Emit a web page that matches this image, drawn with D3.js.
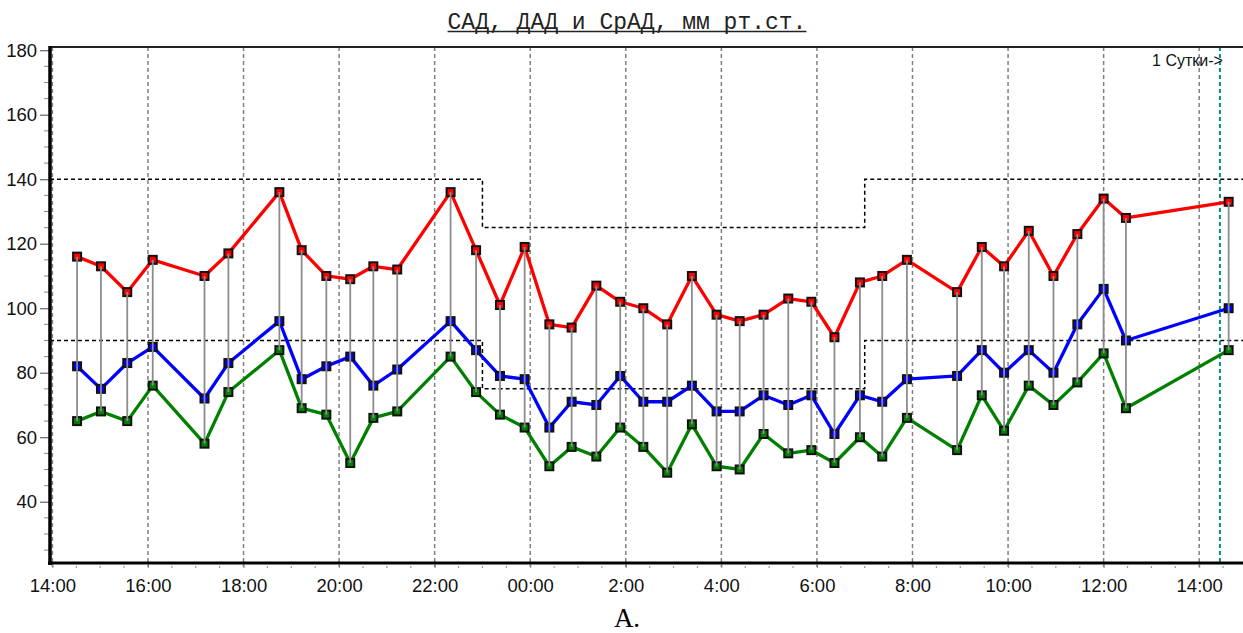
<!DOCTYPE html>
<html>
<head>
<meta charset="utf-8">
<script src="https://cdn.jsdelivr.net/npm/d3@7"></script>
<style>
  body { margin: 0; background: #fff; }
  svg { display: block; }
</style>
</head>
<body>
<div id="chart"></div>
<script>
// measurement times (day 1 from 14:00, continues into day 2)
const times = ["14:31", "15:01", "15:34", "16:06", "17:11", "17:41", "18:45", "19:13", "19:44", "20:14",
  "20:43", "21:13", "22:20", "22:52", "23:22", "23:53", "00:24", "00:52", "01:23", "01:53",
  "02:22", "02:52", "03:23", "03:54", "04:23", "04:53", "05:24", "05:53", "06:22", "06:54",
  "07:22", "07:53", "08:56", "09:27", "09:55", "10:26", "10:57", "11:27", "12:00", "12:28", "14:37"];
// САД
const sad = [116, 113, 105, 115, 110, 117, 136, 118, 110, 109,
  113, 112, 136, 118, 101, 119, 95, 94, 107, 102,
  100, 95, 110, 98, 96, 98, 103, 102, 91, 108,
  110, 115, 105, 119, 113, 124, 110, 123, 134, 128, 133];
// СрАД
const srad = [82, 75, 83, 88, 72, 83, 96, 78, 82, 85,
  76, 81, 96, 87, 79, 78, 63, 71, 70, 79,
  71, 71, 76, 68, 68, 73, 70, 73, 61, 73,
  71, 78, 79, 87, 80, 87, 80, 95, 106, 90, 100];
// ДАД
const dad = [65, 68, 65, 76, 58, 74, 87, 69, 67, 52,
  66, 68, 85, 74, 67, 63, 51, 57, 54, 63,
  57, 49, 64, 51, 50, 61, 55, 56, 52, 60,
  54, 66, 56, 73, 62, 76, 70, 77, 86, 69, 87];

const yTicks = [40, 60, 80, 100, 120, 140, 160, 180];
const xTickLabels = ["14:00", "16:00", "18:00", "20:00", "22:00", "00:00", "2:00", "4:00",
  "6:00", "8:00", "10:00", "12:00", "14:00"];
// night period 23:00 - 07:00
const nightStart = "23:00";
const nightEnd = "07:00";
const sadLimits = [140, 125, 140];
const dadLimits = [90, 75, 90];
const dayMark = "14:26";

const W = 1243, H = 633;
const svg = d3.select("#chart").append("svg").attr("width", W).attr("height", H);

// minutes since 14:00 of day 1
function toMin(s) {
  const [h, m] = s.split(":").map(Number);
  let v = h * 60 + m - 14 * 60;
  if (v < 0) v += 1440;
  return v;
}
let prev = -1, offset = 0;
const mins = times.map(t => {
  let v = toMin(t) + offset;
  if (v < prev) { offset += 1440; v += 1440; }
  prev = v;
  return v;
});
const data = times.map((t, i) => ({ t: mins[i], s: sad[i], m: srad[i], d: dad[i] }));

const pLeft = 50, pRight = 1243, pTop = 47, pBottom = 563;
const x = d3.scaleLinear().domain([-3, 1495]).range([pLeft, pRight]);
const y = d3.scaleLinear().domain([21, 181]).range([pBottom, pTop]);

// vertical grid
svg.append("g").selectAll("line").data(d3.range(0, 1441, 120)).enter().append("line")
  .attr("x1", d => x(d)).attr("x2", d => x(d))
  .attr("y1", pTop).attr("y2", pBottom + 4)
  .attr("stroke", "#808080").attr("stroke-width", 1.5).attr("stroke-dasharray", "4,3");

// 1 day marker
const dm = toMin(dayMark) + 1440;
svg.append("line").attr("x1", x(dm)).attr("x2", x(dm)).attr("y1", pTop).attr("y2", pBottom)
  .attr("stroke", "#0a8a8a").attr("stroke-width", 2).attr("stroke-dasharray", "4,3");
svg.append("text").attr("x", x(dm) + 3).attr("y", 66).attr("text-anchor", "end")
  .attr("font-family", "Liberation Sans, Arial, sans-serif").attr("font-size", 16)
  .attr("fill", "#111").text("1 Сутки->");

// limit lines
const ns = toMin(nightStart), ne = toMin(nightEnd);
const stepLine = d3.line().x(d => x(d[0])).y(d => y(d[1])).curve(d3.curveStepAfter);
[sadLimits, dadLimits].forEach(lim => {
  const pts = [[-3, lim[0]], [ns, lim[1]], [ne, lim[2]], [1495, lim[2]]];
  svg.append("path").attr("d", stepLine(pts)).attr("fill", "none")
    .attr("stroke", "#000").attr("stroke-width", 1.5).attr("stroke-dasharray", "4,3");
});

// series lines
const series = [
  { key: "d", color: "#008000" },
  { key: "m", color: "#0000ff" },
  { key: "s", color: "#ff0000" }
];
series.forEach(sr => {
  svg.append("path").datum(data)
    .attr("d", d3.line().x(d => x(d.t)).y(d => y(d[sr.key])))
    .attr("fill", "none").attr("stroke", sr.color).attr("stroke-width", 3.3)
    .attr("stroke-linejoin", "round");
});
series.forEach(sr => {
  svg.append("g").selectAll("rect").data(data).enter().append("rect")
    .attr("x", d => x(d.t) - 4).attr("y", d => y(d[sr.key]) - 4)
    .attr("width", 8).attr("height", 8)
    .attr("fill", sr.color).attr("stroke", "#111").attr("stroke-width", 2);
});

// connectors
svg.append("g").selectAll("line").data(data).enter().append("line")
  .attr("x1", d => x(d.t)).attr("x2", d => x(d.t))
  .attr("y1", d => y(d.s)).attr("y2", d => y(d.d))
  .attr("stroke", "#8c8c8c").attr("stroke-width", 1.8);

// frame / axes
svg.append("line").attr("x1", pLeft).attr("x2", pRight).attr("y1", pTop).attr("y2", pTop)
  .attr("stroke", "#222").attr("stroke-width", 2);

const yAxis = svg.append("g").attr("transform", `translate(${pLeft - 1},0)`)
  .call(d3.axisLeft(y).tickValues(yTicks).tickSize(9).tickPadding(3).tickFormat(d3.format("d")));
yAxis.select(".domain").remove();
yAxis.selectAll(".tick line").attr("stroke", "#666").attr("stroke-width", 1.2);
yAxis.selectAll("text").attr("font-family", "Liberation Sans, Arial, sans-serif")
  .attr("font-size", 18.5).attr("fill", "#111");
svg.append("g").attr("transform", `translate(${pLeft - 1},0)`).selectAll("line")
  .data(d3.range(25, 181, 5).filter(v => v % 20 !== 0)).enter().append("line")
  .attr("x1", -5).attr("x2", 0).attr("y1", d => y(d)).attr("y2", d => y(d))
  .attr("stroke", "#888").attr("stroke-width", 1);

const xAxis = svg.append("g").attr("transform", `translate(0,${pBottom + 1})`)
  .call(d3.axisBottom(x).tickValues(d3.range(0, 1441, 120)).tickSize(4).tickPadding(11)
    .tickFormat((d, i) => xTickLabels[i]));
xAxis.select(".domain").remove();
xAxis.selectAll(".tick line").attr("stroke", "#888");
xAxis.selectAll("text").attr("font-family", "Liberation Sans, Arial, sans-serif")
  .attr("font-size", 18.5).attr("fill", "#111");
svg.append("g").attr("transform", `translate(0,${pBottom + 1})`).selectAll("line")
  .data(d3.range(30, 1495, 30).filter(v => v % 120 !== 0)).enter().append("line")
  .attr("x1", d => x(d)).attr("x2", d => x(d)).attr("y1", 2).attr("y2", 4)
  .attr("stroke", "#999").attr("stroke-width", 1.2);

svg.append("line").attr("x1", pLeft).attr("x2", pLeft).attr("y1", pTop - 1).attr("y2", pBottom + 2)
  .attr("stroke", "#000").attr("stroke-width", 3.5);
svg.append("line").attr("x1", pLeft - 2).attr("x2", pRight).attr("y1", pBottom).attr("y2", pBottom)
  .attr("stroke", "#000").attr("stroke-width", 3);

// title
const title = svg.append("text").attr("x", 627).attr("y", 29).attr("text-anchor", "middle")
  .attr("font-family", "Liberation Mono, Courier New, monospace").attr("font-size", 23)
  .attr("fill", "#222").text("САД, ДАД и СрАД, мм рт.ст.");
const tb = title.node().getBBox();
svg.append("line").attr("x1", tb.x).attr("x2", tb.x + tb.width).attr("y1", 31.5).attr("y2", 31.5)
  .attr("stroke", "#222").attr("stroke-width", 1.3);

svg.append("text").attr("x", 627).attr("y", 627).attr("text-anchor", "middle")
  .attr("font-family", "Liberation Serif, Times New Roman, serif").attr("font-size", 27)
  .attr("fill", "#000").text("A.");
</script>
</body>
</html>
